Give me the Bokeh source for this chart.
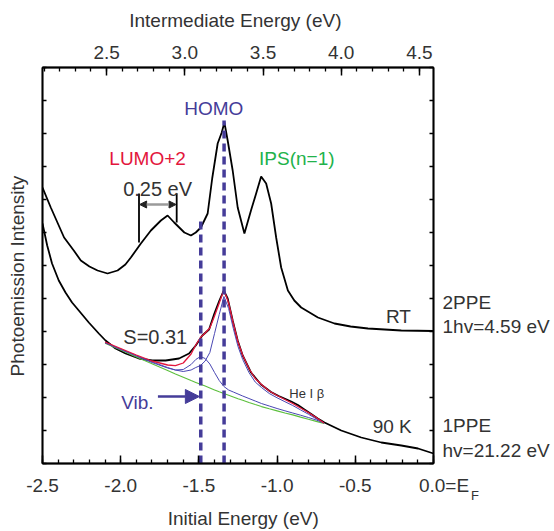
import math
from bokeh.plotting import figure
from bokeh.models import (Range1d, LinearAxis, SingleIntervalTicker, FixedTicker,
                          PrintfTickFormatter, Label, Arrow, NormalHead)
from bokeh.embed import file_html
from bokeh.resources import INLINE

# ---------------- data ----------------
# Initial energy (eV) relative to E_F ; intensity in arbitrary units
rt_energy = [-2.500, -2.447, -2.362, -2.300, -2.255, -2.200, -2.148, -2.084, -2.020, -1.970,
             -1.935, -1.871, -1.807, -1.743, -1.700, -1.658, -1.593, -1.551, -1.520, -1.487,
             -1.444, -1.415, -1.380, -1.354, -1.337, -1.316, -1.284, -1.252, -1.209, -1.167,
             -1.134, -1.102, -1.070, -1.038, -1.006, -0.974, -0.931, -0.890, -0.846, -0.739,
             -0.633, -0.530, -0.419, -0.206, 0.000]
rt_intensity = [276, 256, 226, 213, 203, 197, 193, 190, 193, 199,
                206, 220, 233, 243, 248, 241, 231, 228, 231, 236,
                250, 285, 320, 331, 341, 323, 293, 256, 230, 253,
                270, 287, 280, 260, 226, 196, 173, 163, 156, 146,
                140, 137, 135, 133, 132.5]

ppe_energy = [-2.500, -2.470, -2.439, -2.396, -2.353, -2.311, -2.268, -2.204, -2.140, -2.097,
              -2.033, -1.969, -1.883, -1.798, -1.713, -1.627, -1.563, -1.520, -1.478, -1.435,
              -1.401, -1.369, -1.341, -1.316, -1.284, -1.252, -1.220, -1.167, -1.103, -1.039,
              -0.990, -0.953, -0.910, -0.867, -0.825, -0.782, -0.740, -0.697, -0.590, -0.462,
              -0.334, -0.206, -0.099, 0.000]
ppe_intensity = [240, 218, 200, 183, 171, 161, 153, 141, 130, 123,
                 115, 110, 105, 103, 103, 105, 110, 118, 128, 134,
                 150, 163, 173, 165, 143, 123, 108, 91, 79, 71.5,
                 67.5, 65, 62, 58.5, 54, 49.5, 45, 41, 33, 26,
                 21, 18, 15, 10]

fit_energy = [-2.10, -2.00, -1.90, -1.80, -1.70, -1.65, -1.60, -1.55, -1.52, -1.49,
              -1.46, -1.43, -1.40, -1.37, -1.34, -1.31, -1.28, -1.25, -1.22, -1.18,
              -1.14, -1.10, -1.05, -1.00, -0.95, -0.90, -0.85, -0.80, -0.75, -0.70]
background_fit = [120.2, 113.4, 106.6, 99.8, 93.0, 89.6, 86.3, 83.0, 81.1, 79.2,
                  77.4, 75.5, 73.6, 71.7, 69.9, 68.2, 66.5, 64.8, 63.2, 61.0,
                  58.9, 56.9, 54.7, 52.6, 50.5, 48.6, 46.4, 44.3, 42.1, 40.0]
vib_fit = [120.6, 114.0, 107.5, 101.0, 95.5, 93.5, 94.0, 99.0, 104.0, 107.0,
           105.0, 99.5, 91.0, 83.0, 77.0, 73.5, 71.5, 69.5, 67.5, 65.0,
           62.5, 60.0, 57.5, 55.0, 52.7, 50.5, 48.3, 46.0, 43.5, 40.5]
homo_fit = [121.0, 114.5, 108.0, 101.7, 96.0, 93.5, 92.0, 93.5, 96.0, 98.0,
            102.5, 111.0, 130.0, 149.0, 167.0, 155.0, 135.0, 117.0, 104.0, 91.0,
            81.5, 76.0, 70.0, 65.7, 61.8, 58.0, 53.6, 49.3, 44.7, 40.3]
total_fit = [121.5, 115.0, 108.5, 102.5, 98.5, 97.8, 100.5, 109.5, 118.5, 126.0,
             130.5, 135.5, 147.5, 160.5, 173.5, 160.5, 140.0, 121.5, 108.3, 95.0,
             85.0, 79.0, 72.5, 68.0, 64.0, 60.0, 55.5, 51.0, 46.0, 40.5]

# peak markers (vibrational satellite, HOMO)
marker_energy = [-1.488, -1.339]
marker_top = [245, 343]

# LUMO+2 splitting bracket
bracket_energy = [-1.883, -1.642]
bracket_bottom = [221, 241]
bracket_top = [270, 270]

photon_shift = 4.59          # intermediate energy = initial energy + 1 hv

# right-hand side labels (value on intensity axis -> text)
side_label_pos = [161, 137, 38, 13]
side_label_text = ["2PPE", "1hv=4.59 eV", "1PPE", "hv=21.22 eV"]

intensity_ticks = [33 * i for i in range(13)]
fermi_level = 0.0

# ---------------- styling ----------------
FONT = "Liberation Sans"
TXT = "#333333"
BLUE = "#453c99"
FIT_BLUE = "#4a47b3"
RED = "#e3163c"
GREEN_TXT = "#22b24b"
GREEN_FIT = "#5cbf3c"
NB = "\u00a0"

p = figure(width=554, height=531,
           x_range=Range1d(-2.5, 0.0), y_range=Range1d(0, 396),
           output_backend="svg", toolbar_location=None,
           min_border_left=42, min_border_right=121,
           min_border_top=67, min_border_bottom=68)
p.xgrid.visible = False
p.ygrid.visible = False
p.outline_line_color = "black"
p.outline_line_width = 1.5
p.background_fill_color = "white"
p.border_fill_color = "white"

p.extra_x_ranges = {"top": Range1d(-2.5 + photon_shift, 0.0 + photon_shift)}


def style_axis_title(ax, text, standoff):
    ax.axis_label = text
    ax.axis_label_text_font = FONT
    ax.axis_label_text_font_size = "19px"
    ax.axis_label_text_font_style = "normal"
    ax.axis_label_text_color = TXT
    ax.axis_label_standoff = standoff


def style_x(ax, standoff):
    ax.ticker = SingleIntervalTicker(interval=0.5, num_minor_ticks=5)
    ax.formatter = PrintfTickFormatter(format="%.1f")
    ax.major_tick_in = 8
    ax.major_tick_out = 0
    ax.minor_tick_in = 4
    ax.minor_tick_out = 0
    ax.axis_line_width = 1.8
    ax.axis_line_color = "black"
    ax.major_tick_line_width = 1.5
    ax.minor_tick_line_width = 1.3
    ax.major_tick_line_color = "black"
    ax.minor_tick_line_color = "black"
    ax.major_label_text_font = FONT
    ax.major_label_text_font_size = "19px"
    ax.major_label_text_color = TXT
    ax.major_label_standoff = standoff


def style_y(ax, majors):
    ax.ticker = FixedTicker(ticks=majors, minor_ticks=intensity_ticks)
    ax.major_tick_in = 0
    ax.major_tick_out = 0
    ax.minor_tick_in = 4
    ax.minor_tick_out = 0
    ax.axis_line_width = 1.8
    ax.axis_line_color = "black"
    ax.minor_tick_line_width = 1.5
    ax.minor_tick_line_color = "black"
    ax.major_label_text_font = FONT
    ax.major_label_text_font_size = "19px"
    ax.major_label_text_color = TXT


# bottom axis: ticks + labels, "0.0=E" at the Fermi level
bottom = p.xaxis[0]
style_x(bottom, 11)
bottom.major_label_overrides = {fermi_level: NB * 4 + "0.0=E"}

# second bottom axis: subscript "F" of E_F and the axis title
sub_axis = LinearAxis(ticker=FixedTicker(ticks=[fermi_level], minor_ticks=[]))
sub_axis.axis_line_color = None
sub_axis.major_tick_in = 0
sub_axis.major_tick_out = 0
sub_axis.minor_tick_in = 0
sub_axis.minor_tick_out = 0
sub_axis.major_label_overrides = {fermi_level: NB * 23 + "F"}
sub_axis.major_label_text_font = FONT
sub_axis.major_label_text_font_size = "13px"
sub_axis.major_label_text_color = TXT
sub_axis.major_label_standoff = -11
style_axis_title(sub_axis, NB * 2 + "Initial Energy (eV)", 2)
p.add_layout(sub_axis, "below")

top_axis = LinearAxis(x_range_name="top")
style_x(top_axis, 9)
style_axis_title(top_axis, "Intermediate Energy (eV)" + NB, 12)
p.add_layout(top_axis, "above")

left = p.yaxis[0]
style_y(left, [])
left.major_label_standoff = 0
style_axis_title(left, "Photoemission Intensity" + NB * 4, 15)

right_axis = LinearAxis()
style_y(right_axis, side_label_pos)
right_axis.major_label_standoff = 9
right_axis.major_label_overrides = dict(zip(side_label_pos, side_label_text))
p.add_layout(right_axis, "right")

# ---------------- spectra ----------------
p.line(rt_energy, rt_intensity, line_color="black", line_width=1.8)
p.line(ppe_energy, ppe_intensity, line_color="black", line_width=1.8)

# fits
p.line(fit_energy, background_fit, line_color=GREEN_FIT, line_width=1.1)
p.line(fit_energy, vib_fit, line_color=FIT_BLUE, line_width=1.0)
p.line(fit_energy, homo_fit, line_color=FIT_BLUE, line_width=1.0)
p.line(fit_energy, total_fit, line_color=RED, line_width=1.3)

# peak marker dashed lines
p.segment(x0=marker_energy, y0=[0, 0], x1=marker_energy, y1=marker_top,
          line_color=BLUE, line_width=3.5, line_dash="8 5")

# bracket for 0.25 eV
p.segment(x0=bracket_energy, y0=bracket_bottom, x1=bracket_energy, y1=bracket_top,
          line_color="black", line_width=1.8)
p.add_layout(Arrow(start=NormalHead(size=7, fill_color="#222222", line_color="#222222"),
                   end=NormalHead(size=7, fill_color="#222222", line_color="#222222"),
                   x_start=bracket_energy[0] + 0.004, y_start=259,
                   x_end=bracket_energy[1] - 0.004, y_end=259,
                   line_color="#9a9a9a", line_width=2.5))

# Vib. arrow
p.add_layout(Arrow(end=NormalHead(size=14, fill_color=BLUE, line_color=BLUE),
                   x_start=-1.762, y_start=67, x_end=-1.497, y_end=67,
                   line_color=BLUE, line_width=2.5))


def lab(text, x, y, color=TXT, size="19px", align="left"):
    p.add_layout(Label(x=x, y=y, text=text, text_font=FONT, text_font_size=size,
                       text_color=color, text_align=align, text_baseline="alphabetic"))


lab("HOMO", -1.405, 355, BLUE, align="center")
lab("LUMO+2", -1.828, 305, RED, align="center")
lab("IPS(n=1)", -0.874, 305.5, GREEN_TXT, align="center")
lab("0.25 eV", -1.764, 275, size="20px", align="center")
lab("S=0.31", -1.779, 127, size="20px", align="center")
lab("Vib.", -1.893, 61.5, BLUE, align="center")
lab("He I \u03b2", -0.922, 70, size="13px")
lab("RT", -0.304, 147.5)
lab("90 K", -0.389, 37)

open("out.html", "w").write(file_html(p, INLINE))
